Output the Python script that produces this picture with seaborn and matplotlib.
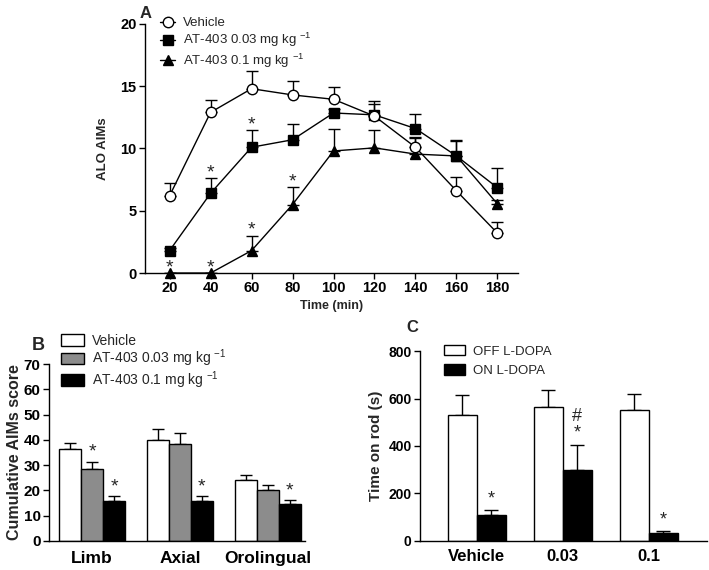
import numpy as np
import pandas as pd
import matplotlib
matplotlib.use("Agg")
import matplotlib.pyplot as plt
import seaborn as sns

sns.set_style("ticks")
plt.rcParams["font.family"] = ["Liberation Sans", "DejaVu Sans"]
plt.rcParams["mathtext.fontset"] = "custom"
plt.rcParams["mathtext.rm"] = "Liberation Sans"

# ── Panel A: ALO AIMs time course ────────────────────────────────────────────
TIME = [20, 40, 60, 80, 100, 120, 140, 160, 180]
GROUPS_A = ["Vehicle", r"AT-403 0.03 mg kg $^{\mathregular{-1}}$",
            r"AT-403 0.1 mg kg $^{\mathregular{-1}}$"]
VEH_MEAN = [6.2, 12.9, 14.8, 14.3, 13.95, 12.6, 10.1, 6.6, 3.2]
VEH_SEM = [1.0, 1.0, 1.4, 1.1, 1.0, 1.2, 0.8, 1.1, 0.9]
LOW_MEAN = [1.8, 6.4, 10.1, 10.7, 12.85, 12.7, 11.6, 9.4, 6.85]
LOW_SEM = [0.2, 1.2, 1.4, 1.3, 0.3, 0.9, 1.2, 1.3, 1.6]
HIGH_MEAN = [0.0, 0.0, 1.8, 5.5, 9.8, 10.05, 9.55, 9.4, 5.55]
HIGH_SEM = [0.0, 0.0, 1.2, 1.4, 1.75, 1.45, 1.3, 1.2, 0.3]
# significance marks (time, group index)
STARS_A = [(40, 1), (60, 1), (20, 2), (40, 2), (60, 2), (80, 2)]

# ── Panel B: cumulative AIMs ────────────────────────────────────────────────
SUBTYPES = ["Limb", "Axial", "Orolingual"]
DOSES_B = GROUPS_A
B_MEAN = {DOSES_B[0]: [36.5, 40.1, 24.2],
          DOSES_B[1]: [28.5, 38.4, 20.2],
          DOSES_B[2]: [15.7, 15.7, 14.6]}
B_SEM = {DOSES_B[0]: [2.3, 4.2, 2.0],
         DOSES_B[1]: [2.9, 4.4, 2.0],
         DOSES_B[2]: [2.0, 2.0, 1.5]}
STARS_B = [(0, 1), (0, 2), (1, 2), (2, 2)]

# ── Panel C: rotarod ────────────────────────────────────────────────────────
TREAT = ["Vehicle", "0.03", "0.1"]
STATES = ["OFF L-DOPA", "ON L-DOPA"]
C_MEAN = {"OFF L-DOPA": [532, 565, 551], "ON L-DOPA": [109, 298, 32]}
C_SEM = {"OFF L-DOPA": [82, 70, 67], "ON L-DOPA": [22, 108, 10]}
MARKS_C = [(0, "*"), (1, "#\n*"), (2, "*")]

fig = plt.figure(figsize=(7.09, 5.70), dpi=100)
axA = fig.add_axes([0.2045, 0.521, 0.526, 0.437])
axB = fig.add_axes([0.069, 0.0509, 0.361, 0.3105])
axC = fig.add_axes([0.5924, 0.0509, 0.4048, 0.3333])


def style_axis(ax, size):
    sns.despine(ax=ax)
    for s in ("left", "bottom"):
        ax.spines[s].set_linewidth(1)
        ax.spines[s].set_color("black")
    ax.tick_params(labelsize=size, width=1, length=4, direction="out",
                   colors="black", pad=2)
    for lab in ax.get_xticklabels() + ax.get_yticklabels():
        lab.set_fontweight("bold")


# ════ Panel A ═══════════════════════════════════════════════════════════════
means = [VEH_MEAN, LOW_MEAN, HIGH_MEAN]
sems = [VEH_SEM, LOW_SEM, HIGH_SEM]
dfA = pd.DataFrame({
    "time": TIME * 3,
    "aims": VEH_MEAN + LOW_MEAN + HIGH_MEAN,
    "group": [g for g in GROUPS_A for _ in TIME],
})
sns.lineplot(data=dfA, x="time", y="aims", hue="group", style="group",
             markers=["o", "s", "^"], dashes=False,
             palette=["black"] * 3, markersize=7.5, linewidth=1,
             markeredgecolor="black", markeredgewidth=1,
             legend=False, ax=axA, zorder=3)
linesA = list(axA.lines[:3])
linesA[0].set_markerfacecolor("white")
linesA[0].set_zorder(4)
for ln in linesA:
    ln.set_clip_on(False)
for m, s in zip(means, sems):
    axA.errorbar(TIME, m, yerr=[np.zeros(len(s)), s], fmt="none",
                 ecolor="black", elinewidth=1, capsize=4, capthick=1, zorder=2)
for t, g in STARS_A:
    i = TIME.index(t)
    top = means[g][i] + sems[g][i]
    axA.annotate("*", (t, top), xytext=(0, -2.3), textcoords="offset points",
                 ha="center", va="bottom", fontsize=14, zorder=6,
                 annotation_clip=False)

axA.set_xlim(8, 190)
axA.set_ylim(0, 20)
axA.set_xticks(TIME)
axA.set_yticks([0, 5, 10, 15, 20])
axA.set_xlabel("Time (min)", fontsize=9, fontweight="bold", labelpad=3)
axA.set_ylabel("ALO AIMs", fontsize=9.5, fontweight="bold", labelpad=8)
style_axis(axA, 10.5)
axA.legend(linesA, GROUPS_A, loc="upper left", bbox_to_anchor=(0.02, 1.06),
           frameon=False, fontsize=9.5, handlelength=1.1, handletextpad=0.6,
           labelspacing=0.15, borderaxespad=0.2)
fig.text(0.197, 0.99, "A", fontsize=12, fontweight="bold", va="top")

# ════ Panel B ═══════════════════════════════════════════════════════════════
dfB = pd.DataFrame({
    "subtype": SUBTYPES * 3,
    "dose": [d for d in DOSES_B for _ in SUBTYPES],
    "score": sum((B_MEAN[d] for d in DOSES_B), []),
})
sns.barplot(data=dfB, x="subtype", y="score", hue="dose", hue_order=DOSES_B,
            palette=["white", "#8c8c8c", "black"], width=0.75, errorbar=None,
            edgecolor="black", linewidth=1, legend=False, ax=axB, saturation=1)
for d, cont in zip(DOSES_B, axB.containers):
    xs = [p.get_x() + p.get_width() / 2 for p in cont.patches]
    axB.errorbar(xs, B_MEAN[d], yerr=[np.zeros(3), B_SEM[d]], fmt="none",
                 ecolor="black", elinewidth=1, capsize=4, capthick=1, zorder=0)
for i, g in STARS_B:
    p = axB.containers[g].patches[i]
    d = DOSES_B[g]
    axB.text(p.get_x() + p.get_width() / 2, B_MEAN[d][i] + B_SEM[d][i] + 0.5,
             "*", ha="center", va="bottom", fontsize=14)
axB.set_xlim(-0.49, 2.42)
axB.set_ylim(0, 70)
axB.set_yticks(range(0, 71, 10))
axB.set_xlabel("")
axB.set_ylabel("Cumulative AIMs score", fontsize=11.5, fontweight="bold",
               labelpad=1)
style_axis(axB, 11)
axB.tick_params(axis="x", length=0, labelsize=12.5, pad=7)
handlesB = list(axB.containers[k].patches[0] for k in range(3))
axB.legend(handlesB, DOSES_B, loc="upper left", bbox_to_anchor=(0.02, 1.21),
           frameon=False, fontsize=10, handlelength=1.65, handleheight=0.9,
           handletextpad=0.55, labelspacing=0.0, borderaxespad=0.1)
fig.text(0.045, 0.408, "B", fontsize=13, fontweight="bold", va="top")

# ════ Panel C ═══════════════════════════════════════════════════════════════
dfC = pd.DataFrame({
    "treat": TREAT * 2,
    "state": [s for s in STATES for _ in TREAT],
    "time": C_MEAN["OFF L-DOPA"] + C_MEAN["ON L-DOPA"],
})
sns.barplot(data=dfC, x="treat", y="time", hue="state", hue_order=STATES,
            palette=["white", "black"], width=0.674, errorbar=None,
            edgecolor="black", linewidth=1, legend=False, ax=axC, saturation=1)
for st, cont in zip(STATES, axC.containers):
    xs = [p.get_x() + p.get_width() / 2 for p in cont.patches]
    axC.errorbar(xs, C_MEAN[st], yerr=[np.zeros(3), C_SEM[st]], fmt="none",
                 ecolor="black", elinewidth=1, capsize=5, capthick=1, zorder=0)
for i, mark in MARKS_C:
    p = axC.containers[1].patches[i]
    y = C_MEAN["ON L-DOPA"][i] + C_SEM["ON L-DOPA"][i] + 12
    axC.text(p.get_x() + p.get_width() / 2, y, mark, ha="center", va="bottom",
             fontsize=13, linespacing=0.95)
axC.set_xlim(-0.66, 2.68)
axC.set_ylim(0, 800)
axC.set_yticks([0, 200, 400, 600, 800])
axC.set_xlabel("")
axC.set_ylabel("Time on rod (s)", fontsize=11, fontweight="bold", labelpad=4)
style_axis(axC, 10)
axC.tick_params(axis="x", length=0, labelsize=12, pad=6)
handlesC = list(axC.containers[k].patches[0] for k in range(2))
axC.legend(handlesC, STATES, loc="upper left", bbox_to_anchor=(0.06, 1.065),
           frameon=False, fontsize=9.5, handlelength=1.6, handleheight=0.8,
           handletextpad=0.6, labelspacing=0.5, borderaxespad=0.1)
fig.text(0.573, 0.438, "C", fontsize=12, fontweight="bold", va="top")

fig.savefig("out.png", dpi=100)
